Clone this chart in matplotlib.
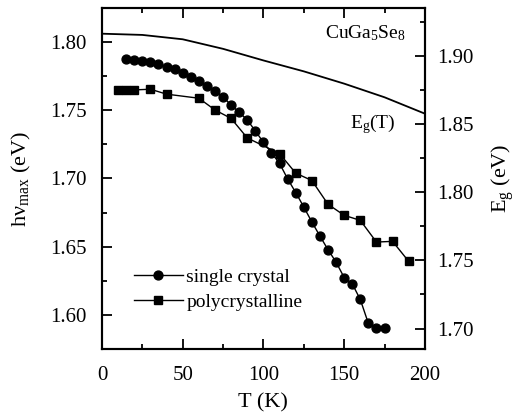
import matplotlib.pyplot as plt
from matplotlib.ticker import MultipleLocator

plt.rcParams['font.family'] = 'Liberation Serif'
plt.rcParams['mathtext.fontset'] = 'custom'
plt.rcParams['mathtext.rm'] = 'Liberation Serif'
plt.rcParams['mathtext.it'] = 'Liberation Serif:italic'

# single crystal, peak energy (eV)
T_single = [15, 20, 25, 30, 35, 40, 45, 50, 55, 60, 65, 70, 75, 80, 85, 90, 95,
            100, 105, 110, 115, 120, 125, 130, 135, 140, 145, 150, 155, 160,
            165, 170, 175]
E_single = [1.7877, 1.7870, 1.7862, 1.7855, 1.7840, 1.7820, 1.7800, 1.7776,
            1.7747, 1.7715, 1.7679, 1.7640, 1.7598, 1.7537, 1.7485, 1.7429,
            1.7348, 1.7265, 1.7188, 1.7110, 1.6997, 1.6897, 1.6791, 1.6681,
            1.6578, 1.6478, 1.6387, 1.6274, 1.6228, 1.6113, 1.5938, 1.5907,
            1.5902]

# polycrystalline
T_poly = [10, 15, 20, 30, 40, 60, 70, 80, 90, 110, 120, 130, 140, 150, 160,
          170, 180, 190]
E_poly = [1.7649, 1.7649, 1.7649, 1.7654, 1.7618, 1.7588, 1.7502, 1.7440,
          1.7297, 1.7182, 1.7039, 1.6985, 1.6811, 1.6730, 1.6693, 1.6534,
          1.6539, 1.6392]

# band gap Eg(T), right axis
T_gap = [0, 25, 50, 75, 100, 125, 150, 175, 200]
E_gap = [1.9161, 1.9152, 1.9120, 1.9050, 1.8965, 1.8885, 1.8795, 1.8695, 1.8575]

fig = plt.figure(figsize=(5.15, 4.16), dpi=100)
ax = fig.add_axes([0.198, 0.161, 0.627, 0.820])
ax2 = ax.twinx()

ax.plot(T_single, E_single, '-o', color='black', lw=1.0, ms=6.4,
        label='single crystal')
ax.plot(T_poly, E_poly, '-s', color='black', lw=1.0, ms=5.8,
        label='polycrystalline')
ax2.plot(T_gap, E_gap, '-', color='black', lw=1.3)

ax.set_xlim(0, 200)
ax.set_ylim(1.575, 1.825)
ax2.set_ylim(1.685, 1.935)

ax.xaxis.set_major_locator(MultipleLocator(50))
ax.xaxis.set_minor_locator(MultipleLocator(25))
ax.yaxis.set_major_locator(MultipleLocator(0.05))
ax.yaxis.set_minor_locator(MultipleLocator(0.025))
ax2.yaxis.set_major_locator(MultipleLocator(0.05))
ax2.yaxis.set_minor_locator(MultipleLocator(0.025))
ax.yaxis.set_major_formatter(plt.FormatStrFormatter('%.2f'))
ax2.yaxis.set_major_formatter(plt.FormatStrFormatter('%.2f'))

ax.tick_params(which='both', direction='in', top=True, labelsize=15, width=1.3)
ax.tick_params(which='major', length=7)
ax.tick_params(which='minor', length=3.5)
ax.tick_params(axis='y', pad=11)
ax.tick_params(axis='x', pad=12)
ax2.tick_params(which='both', direction='in', labelsize=15, width=1.3, pad=9)
ax2.tick_params(which='major', length=7)
ax2.tick_params(which='minor', length=3.5)
for a in (ax, ax2):
    for s in a.spines.values():
        s.set_linewidth(1.5)

ax.set_xlabel('T (K)', fontsize=16, labelpad=6)
ax.set_ylabel('h\u03bd$_{\\mathrm{max}}$ (eV)', fontsize=16, labelpad=12)
ax2.set_ylabel('E$_{\\mathrm{g}}$ (eV)', fontsize=16, labelpad=11)

ax.text(0.94, 0.925, 'CuGa$_5$Se$_8$', transform=ax.transAxes, fontsize=14,
        ha='right', va='center')
ax.text(0.91, 0.66, 'E$_\\mathrm{g}$(T)', transform=ax.transAxes, fontsize=14,
        ha='right', va='center')

ax.legend(loc='lower left', bbox_to_anchor=(0.075, 0.088), frameon=False,
          fontsize=14, handlelength=2.5, handletextpad=0.2, labelspacing=0.4,
          borderaxespad=0)

fig.savefig('out.png', dpi=100)
